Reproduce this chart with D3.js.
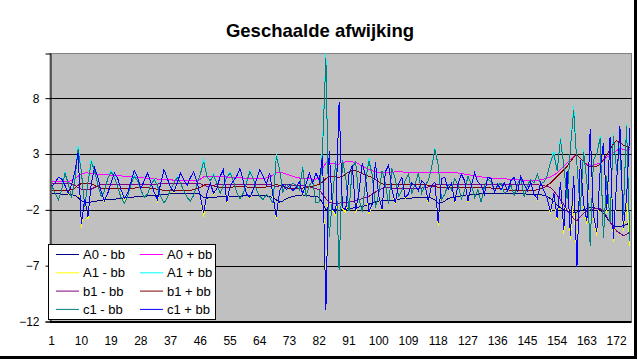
<!DOCTYPE html>
<html>
<head>
<meta charset="utf-8">
<script src="https://cdn.jsdelivr.net/npm/d3@7"></script>
<style>
  body { margin: 0; background: #fff; }
  svg { display: block; font-family: Arial, "Liberation Sans", sans-serif; }
</style>
</head>
<body>
<script>
// ---- data ----
const categories = d3.range(1, 177);
const xTickLabels = [1, 10, 19, 28, 37, 46, 55, 64, 73, 82, 91, 100, 109, 118, 127, 136, 145, 154, 163, 172];
const yTickValues = [-12, -7, -2, 3, 8];

const seriesNames = ["A0 - bb", "A0 + bb", "A1 - bb", "A1 + bb", "b1 - bb", "b1 + bb", "c1 - bb", "c1 + bb"];
const seriesColors = ["#000080", "#FF00FF", "#FFFF00", "#00FFFF", "#800080", "#800000", "#008080", "#0000FF"];

const a0Minus = [
  -0.55, -0.55, -0.55, -0.6, -0.6, -0.6, -0.65, -0.7,
  -0.9, -1.2, -1.3, -1.3, -1.3, -1.25,
  -1.2, -1.15, -1.15, -1.1, -1.1, -1.05, -1.0, -1.0,
  -0.95, -0.9, -0.9, -0.85, -0.85, -0.8, -0.8, -0.75,
  -0.75, -0.7, -0.7, -0.65, -0.6, -0.6, -0.55, -0.55,
  -0.55, -0.55, -0.55, -0.55, -0.55, -0.55, -0.55, -0.6,
  -0.9, -0.95, -0.9, -0.9, -0.85, -0.85, -0.85, -0.85,
  -0.8, -0.8, -0.8, -0.8, -0.75, -0.75, -0.75, -0.75, -0.75, -0.7, -0.7, -0.75, -0.8, -0.9,
  -1.1, -1.3, -1.2,
  -1.0, -0.9, -0.8, -0.75, -0.7,
  -0.7, -0.7, -0.75, -0.8, -0.8, -0.9,
  -1.4, -2.0, -2.05, -2.0, -2.0, -2.05, -2.0, -1.95,
  -1.9, -1.85, -1.8, -1.75, -1.7, -1.6, -1.5, -1.4, -1.3, -1.25,
  -1.2, -1.2, -1.15, -1.15, -1.1, -1.05, -1.0, -1.0, -0.95, -0.95,
  -0.9, -0.9, -0.9, -0.9, -0.9, -0.95, -1.1,
  -1.4, -1.35, -1.2, -1.0, -0.9,
  -0.85, -0.8, -0.75, -0.7, -0.7, -0.65, -0.6, -0.6, -0.55, -0.55, -0.5, -0.5, -0.5,
  -0.5, -0.5, -0.5, -0.5, -0.55, -0.55, -0.55, -0.55, -0.55, -0.6, -0.6, -0.6, -0.6, -0.65, -0.7, -0.8, -1.0,
  -1.3, -1.6, -1.8, -2.0, -2.1, -2.2, -2.2, -2.2,
  -2.1, -2.0, -1.9, -1.8, -1.8, -1.9, -2.0, -2.3,
  -2.7, -3.1, -3.4, -3.5, -3.5, -3.4, -3.3, -3.2
];

const a0Plus = [
  0.5, 0.5, 0.5, 0.5, 0.5, 0.55, 0.6, 0.75,
  1.0, 1.2, 1.3, 1.3, 1.25, 1.25,
  1.2, 1.2, 1.15, 1.15, 1.1, 1.1, 1.05, 1.05,
  1.0, 1.0, 0.95, 0.95, 0.9, 0.9, 0.85, 0.85,
  0.8, 0.8, 0.75, 0.75, 0.7, 0.7, 0.7, 0.65,
  0.65, 0.65, 0.65, 0.65, 0.65, 0.65, 0.65, 0.75,
  0.95, 1.0, 1.0, 0.95, 0.95, 0.95, 0.95, 0.95,
  0.9, 0.9, 0.9, 0.9, 0.85, 0.85, 0.8, 0.8, 0.8, 0.8, 0.8, 0.85, 0.95, 1.1,
  1.3, 1.35, 1.3,
  1.2, 1.1, 1.0, 0.9, 0.85,
  0.8, 0.8, 0.8, 0.75, 0.75, 0.9,
  1.7, 2.2, 2.2, 2.15, 2.1, 2.1, 2.2, 2.3,
  2.3, 2.3, 2.25, 2.1, 1.9, 1.75, 1.6, 1.5, 1.4, 1.35,
  1.3, 1.3, 1.3, 1.35, 1.4, 1.4, 1.4, 1.35, 1.35, 1.3,
  1.3, 1.3, 1.3, 1.3, 1.3, 1.3, 1.3,
  1.35, 1.3, 1.3, 1.3, 1.3,
  1.3, 1.3, 1.25, 1.2, 1.15, 1.1, 1.05, 1.0, 0.95, 0.9, 0.9, 0.85, 0.85,
  0.85, 0.8, 0.8, 0.75, 0.7, 0.7, 0.7, 0.65, 0.65, 0.65, 0.65, 0.65, 0.65, 0.7, 0.75, 0.85, 0.95,
  1.1, 1.3, 1.6, 1.9, 2.2, 2.5, 2.8, 2.9,
  2.6, 2.3, 2.1, 2.0, 2.0, 2.1, 2.2, 2.4,
  2.7, 2.9, 3.1, 3.3, 3.5, 3.4, 3.3, 3.4
];

const a1Minus = [
  0.1, 0.4, 0.9, 0.8, 0.2, -0.6, 0.2, 1.4, 3.1, -3.6,
  -1.0, -2.8, 0.4, 1.8, 0.9, -0.4, -1.3, -0.5, 0.4, 1.3,
  0.8, -0.2, -1.1, -0.5, 0.5, 1.5, 0.9, -0.1, 0.6, 1.3,
  0.5, -0.4, -1.2, 0.4, 1.6, 0.8, 0.0, -0.5, 0.4, 1.3,
  0.7, 0.2, 0.9, 1.4, 0.5, -0.8, -2.6, -0.5, 0.4, -0.6,
  -0.1, 1.0, 1.6, -1.4, 0.1, 0.6, 1.0, 1.7, 0.6, -0.6,
  -1.0, -0.2, 0.7, 1.6, 1.0, 0.3, 1.3, -0.9, -2.8, -0.3,
  0.3, -0.2, 0.2, -0.3, 0.0, 0.5, -0.7, 0.3, 1.3, 0.4,
  1.3, 0.6, 2.8, -10.2, 3.3, -2.1, -2.5, 7.7, -1.9, -2.2,
  1.2, 2.0, -2.3, -0.5, 2.2, 1.0, -2.4, -1.5, 2.3, -0.8,
  -2.0, 1.4, 2.0, -0.2, -1.5, 0.3, 0.9, -1.0, -0.6, 0.4,
  0.2, -0.3, 0.6, 0.3, -1.4, 0.2, 0.5, -3.4, 0.8, 0.9,
  -0.2, 0.4, -1.4, 0.3, 1.2, 0.6, -1.3, 0.1, 1.3, 0.5,
  0.2, -0.6, 0.9, 0.8, -0.4, 0.3, -0.2, 0.4, -0.3, 0.6,
  0.9, -0.4, 1.0, 0.3, -0.3, 0.5, -0.6, -1.1, 0.4, -0.3,
  -1.0, -2.4, -0.5, -2.9, 0.5, -4.2, 1.5, -4.6, -1.2, -6.6,
  2.5, -1.6, -3.3, 5.2, -2.7, -4.3, 1.5, 4.0, -2.3, 4.5,
  -4.9, 0.5, 5.5, -3.9, -1.0, -5.2
];

const a1Plus = [
  0.2, -0.5, -1.1, -0.3, 1.4, 0.4, -0.9, 0.6, 3.7, 1.4,
  -1.7, 0.5, 2.5, 1.5, 0.2, -0.8, -0.3, 0.8, 1.5, 0.9,
  0.0, -0.9, -1.4, -0.8, 0.3, 1.1, 0.6, -0.2, -0.9, -0.6,
  0.2, 0.8, 0.2, -0.8, -1.4, -0.9, -0.2, 0.4, 1.0, 0.4,
  -0.3, -0.9, -1.2, -0.7, 0.3, 1.2, 2.6, 1.0, 0.6, 1.2,
  0.4, -0.5, 0.2, 0.9, 1.4, 0.6, -0.4, -1.0, -0.5, 0.5,
  1.5, 0.8, -0.2, -0.8, -1.1, -0.6, -0.9, -1.4, 3.0, 1.6,
  -0.4, 0.3, 0.0, 0.4, 0.2, -0.2, 1.9, -0.8, 0.2, 0.6,
  -1.4, -1.3, 3.9, 12.0, -4.4, -1.0, 2.4, -7.4, 2.5, 1.0,
  -2.1, 1.8, 2.3, -1.0, -2.2, 0.5, 2.6, 1.2, -1.8, -0.6,
  1.5, 0.4, -1.5, 1.7, 0.8, -0.8, -0.3, 0.6, 1.2, -0.5,
  0.3, 1.3, -0.5, 0.2, 0.6, 1.8, 3.5, 2.0, -1.1, -0.6,
  0.3, -0.2, 0.8, 0.2, -1.0, -0.3, 1.0, 0.3, -0.9, -0.2,
  -1.3, 0.1, 0.8, 0.5, -0.3, 0.2, 0.4, -0.5, -0.3, 0.2,
  -0.7, 0.3, 0.9, -0.8, 0.2, 0.7, 0.4, 1.2, 0.3, 0.5,
  1.1, 2.3, 3.3, 1.5, 4.5, 2.0, -1.0, 3.5, 7.3, 2.0,
  -2.0, 3.4, 0.5, -5.2, 2.5, 3.0, 4.6, -4.5, 1.0, -3.1,
  4.8, 1.5, 3.7, -2.5, 5.7, -4.8
];

const b1Minus = [
  0.35, 0.35, 0.35, 0.35, 0.35, 0.35, 0.3, 0.2,
  0.0, -0.15, -0.2, -0.2, -0.15, 0.0, 0.15, 0.25,
  0.3, 0.3, 0.3, 0.3, 0.3, 0.3, 0.3, 0.3, 0.3, 0.3, 0.3, 0.3, 0.3, 0.3, 0.3, 0.3, 0.3, 0.35, 0.35, 0.35,
  0.35, 0.35, 0.35, 0.35, 0.35, 0.35, 0.35, 0.35, 0.35, 0.35,
  0.2, 0.1, 0.15, 0.2, 0.25, 0.3,
  0.3, 0.3, 0.3, 0.3, 0.3, 0.3, 0.3, 0.3, 0.3, 0.3, 0.3, 0.3, 0.3, 0.3, 0.25,
  0.15, 0.1, 0.15, 0.2, 0.25, 0.25, 0.2, 0.2, 0.2, 0.15, 0.1, 0.05, 0.0, -0.1, -0.2,
  -0.6, -1.0, -1.3, -1.4, -1.45, -1.4, -1.35, -1.3,
  -1.3, -1.25, -1.2, -1.1, -1.0, -0.9, -0.8, -0.6, -0.4, -0.25,
  -0.1, 0.0, 0.0, -0.05, -0.1, -0.1, -0.1, -0.1, -0.1, -0.1,
  -0.1, -0.1, -0.05, 0.0, 0.05, 0.1, 0.2, 0.3, 0.3, 0.3, 0.3, 0.3,
  0.3, 0.3, 0.3, 0.3, 0.3, 0.3, 0.3, 0.3, 0.3, 0.3, 0.3, 0.3, 0.3, 0.3, 0.3,
  0.3, 0.3, 0.3, 0.3, 0.3, 0.3, 0.3, 0.3, 0.3, 0.3, 0.25, 0.2, 0.15, 0.1, 0.0,
  -0.3, -0.7, -1.1, -1.5, -2.0, -2.4, -2.8, -2.95,
  -2.6, -2.3, -2.1, -2.0, -1.9, -1.85, -1.9, -2.1,
  -2.6, -3.1, -3.5, -3.9, -4.1, -4.3, -4.2, -4.0
];

const b1Plus = [
  -0.25, -0.25, -0.25, -0.25, -0.25, -0.25, -0.2, -0.05,
  0.2, 0.35, 0.4, 0.4, 0.35, 0.2, 0.05, -0.05,
  -0.1, -0.1, -0.1, -0.1, -0.05, -0.05, -0.05, -0.05, -0.05, -0.05,
  0.0, 0.0, 0.0, 0.0, -0.05, -0.1, -0.15, -0.2, -0.25, -0.25,
  -0.25, -0.25, -0.25, -0.25, -0.25, -0.25, -0.25, -0.2, -0.1, 0.0,
  0.2, 0.3, 0.25, 0.15, 0.05, 0.0,
  0.0, 0.0, 0.0, 0.05, 0.05, 0.05, 0.05, 0.05, 0.0, 0.0, 0.0, 0.0, 0.0, 0.05, 0.1,
  0.2, 0.25, 0.2, 0.1, 0.0, -0.1, -0.1, -0.1, -0.1, -0.05, 0.0, 0.05, 0.1, 0.2, 0.3,
  0.5, 0.8, 1.0, 1.0, 0.95, 0.9, 1.0, 1.2,
  1.4, 1.5, 1.5, 1.4, 1.25, 1.1, 1.0, 0.9, 0.7, 0.5,
  0.35, 0.25, 0.25, 0.25, 0.3, 0.3, 0.3, 0.3, 0.3, 0.3,
  0.3, 0.3, 0.3, 0.25, 0.2, 0.15, 0.1, 0.0, 0.0, 0.0, 0.0, 0.0,
  0.0, 0.0, 0.0, 0.0, 0.0, 0.0, 0.0, 0.0, 0.0, 0.0, 0.0, -0.05, -0.05, -0.05, -0.1,
  -0.15, -0.2, -0.25, -0.25, -0.25, -0.25, -0.25, -0.25, -0.25, -0.25, -0.2, -0.1, 0.0, 0.2, 0.4,
  0.7, 1.0, 1.3, 1.6, 1.9, 2.3, 2.7, 2.95,
  2.6, 2.3, 2.0, 1.85, 1.85, 1.9, 2.1, 2.5,
  2.9, 3.4, 3.9, 4.2, 4.0, 3.8, 3.7, 3.6
];

const c1Minus = [
  0.2, -0.5, -1.1, -0.3, 1.3, 0.4, -0.9, 0.6, 3.4, 1.4,
  -1.7, 0.5, 2.3, 1.5, 0.2, -0.8, -0.3, 0.8, 1.4, 0.9,
  0.0, -0.9, -1.4, -0.8, 0.3, 1.0, 0.6, -0.2, -0.9, -0.6,
  0.2, 0.7, 0.2, -0.8, -1.4, -0.9, -0.2, 0.4, 0.9, 0.4,
  -0.3, -0.9, -1.2, -0.7, 0.3, 1.2, 2.3, 1.0, 0.6, 1.1,
  0.4, -0.5, 0.2, 0.9, 1.3, 0.6, -0.4, -1.0, -0.5, 0.5,
  1.4, 0.8, -0.2, -0.8, -1.1, -0.6, -0.9, -1.4, 2.8, 1.6,
  -0.4, 0.3, 0.0, 0.4, 0.2, -0.2, 1.8, -0.8, 0.2, 0.6,
  -1.4, -1.3, 3.5, 11.6, -4.4, -1.0, 2.4, -7.4, 2.5, 1.0,
  -2.1, 1.8, 2.3, -1.0, -2.2, 0.5, 2.4, 1.2, -1.8, -0.6,
  1.5, 0.4, -1.5, 1.7, 0.8, -0.8, -0.3, 0.6, 1.2, -0.5,
  0.3, 1.3, -0.5, 0.2, 0.6, 1.8, 3.4, 2.0, -1.1, -0.6,
  0.3, -0.2, 0.8, 0.2, -1.0, -0.3, 1.0, 0.3, -0.9, -0.2,
  -1.3, 0.1, 0.8, 0.5, -0.3, 0.2, 0.4, -0.5, -0.3, 0.2,
  -0.7, 0.3, 0.9, -0.8, 0.2, 0.7, 0.4, 1.2, 0.3, 0.5,
  1.1, 2.3, 3.0, 1.5, 4.3, 2.0, -1.0, 3.5, 6.9, 2.0,
  -2.0, 3.2, 0.5, -5.2, 2.5, 3.0, 4.4, -4.5, 1.0, -3.1,
  4.6, 1.5, 3.5, -2.5, 5.5, -4.8
];

const c1Plus = [
  0.1, 0.4, 0.9, 0.8, 0.2, -0.5, 0.2, 1.4, 3.1, -3.3,
  -1.0, -2.6, 0.4, 1.8, 0.9, -0.4, -1.2, -0.5, 0.4, 1.3,
  0.8, -0.2, -1.0, -0.5, 0.5, 1.5, 0.9, -0.1, 0.6, 1.3,
  0.5, -0.4, -1.1, 0.4, 1.6, 0.8, 0.0, -0.4, 0.4, 1.3,
  0.7, 0.2, 0.9, 1.4, 0.5, -0.8, -2.3, -0.5, 0.4, -0.5,
  -0.1, 1.0, 1.6, -1.3, 0.1, 0.6, 1.0, 1.7, 0.6, -0.6,
  -0.9, -0.2, 0.7, 1.6, 1.0, 0.3, 1.3, -0.8, -2.6, -0.3,
  0.3, -0.2, 0.2, -0.3, 0.0, 0.5, -0.6, 0.3, 1.3, 0.4,
  1.3, 0.6, 2.8, -11.0, 3.3, -1.9, -2.3, 7.7, -1.8, -2.0,
  1.2, 2.0, -2.1, -0.5, 2.2, 1.0, -2.2, -1.5, 2.3, -0.8,
  -1.9, 1.4, 2.0, -0.2, -1.4, 0.3, 0.9, -0.9, -0.6, 0.4,
  0.2, -0.3, 0.6, 0.3, -1.3, 0.2, 0.5, -3.2, 0.8, 0.9,
  -0.2, 0.4, -1.3, 0.3, 1.2, 0.6, -1.2, 0.1, 1.3, 0.5,
  0.2, -0.6, 0.9, 0.8, -0.4, 0.3, -0.2, 0.4, -0.3, 0.6,
  0.9, -0.4, 1.0, 0.3, -0.3, 0.5, -0.6, -1.0, 0.4, -0.3,
  -1.0, -2.2, -0.5, -2.7, 0.5, -3.8, 1.5, -4.3, 1.0, -7.1,
  2.5, -1.5, -3.0, 5.2, -2.5, -4.0, 1.5, 4.0, -2.0, 4.5,
  -4.6, 0.5, 5.5, -3.6, -1.0, 5.3
];

const seriesValues = [a0Minus, a0Plus, a1Minus, a1Plus, b1Minus, b1Plus, c1Minus, c1Plus];

// ---- chart ----
const width = 638, height = 361;
const plot = { left: 50, right: 631.5, top: 53.5, bottom: 321.5 };

const svg = d3.select("body").append("svg")
    .attr("width", width)
    .attr("height", height);

// title
svg.append("text")
    .attr("x", 320)
    .attr("y", 37)
    .attr("text-anchor", "middle")
    .style("font-size", "18.5px")
    .style("font-weight", "bold")
    .text("Geschaalde afwijking");

const x = d3.scaleBand().domain(categories).range([plot.left, plot.right]).padding(0);
const y = d3.scaleLinear().domain([-12, 12]).range([plot.bottom, plot.top]);
const xc = d => x(d) + x.bandwidth() / 2;

// plot area
svg.append("rect")
    .attr("x", plot.left)
    .attr("y", plot.top)
    .attr("width", plot.right - plot.left)
    .attr("height", plot.bottom - plot.top)
    .attr("fill", "#C0C0C0")
    .attr("stroke", "#808080")
    .attr("stroke-width", 1);

// gridlines
svg.append("g")
    .selectAll("line")
    .data(yTickValues)
    .enter().append("line")
    .attr("x1", plot.left)
    .attr("x2", plot.right)
    .attr("y1", d => Math.round(y(d)) + 0.5)
    .attr("y2", d => Math.round(y(d)) + 0.5)
    .attr("stroke", "#000")
    .attr("stroke-width", 1);

svg.append("defs").append("clipPath").attr("id", "clip")
    .append("rect")
    .attr("x", plot.left)
    .attr("y", plot.top)
    .attr("width", plot.right - plot.left)
    .attr("height", plot.bottom - plot.top);

// series lines, drawn in legend order so c1 + bb ends up on top
const line = d3.line()
    .x((d, i) => xc(categories[i]))
    .y(d => y(d));

svg.append("g")
    .attr("clip-path", "url(#clip)")
    .selectAll("path")
    .data(seriesValues)
    .enter().append("path")
    .attr("d", line)
    .attr("fill", "none")
    .attr("stroke", (d, i) => seriesColors[i])
    .attr("stroke-width", 1)
    .style("shape-rendering", "crispEdges");

// y axis
const yAxis = d3.axisLeft(y).tickValues(yTickValues).tickSize(5).tickPadding(6).tickFormat(d3.format("d"));
const gy = svg.append("g")
    .attr("transform", `translate(${plot.left + 0.5},0)`)
    .call(yAxis);
gy.select(".domain").attr("stroke", "#000");
gy.selectAll(".tick line").attr("stroke", "#000");
gy.selectAll(".tick text")
    .style("font-size", "12px")
    .style("font-family", "Arial, 'Liberation Sans', sans-serif")
    .attr("fill", "#000");

// x axis line and labels
svg.append("line")
    .attr("x1", plot.left)
    .attr("x2", plot.right)
    .attr("y1", plot.bottom)
    .attr("y2", plot.bottom)
    .attr("stroke", "#000");

svg.append("g")
    .selectAll("text")
    .data(xTickLabels)
    .enter().append("text")
    .attr("x", d => xc(d))
    .attr("y", 345)
    .attr("text-anchor", "middle")
    .style("font-size", "12px")
    .text(d => d);

// legend
const legendData = seriesNames.map((name, i) => ({ name: name, color: seriesColors[i] }));
const legend = svg.append("g");
legend.append("rect")
    .attr("x", 48.5)
    .attr("y", 244.5)
    .attr("width", 167)
    .attr("height", 75)
    .attr("fill", "#fff")
    .attr("stroke", "#000");

const legendItems = legend.selectAll("g.item")
    .data(legendData)
    .enter().append("g")
    .attr("class", "item")
    .attr("transform", (d, i) => `translate(${i % 2 === 0 ? 56 : 140},${254.5 + Math.floor(i / 2) * 18.3})`);

legendItems.append("line")
    .attr("x1", 0)
    .attr("x2", 23)
    .attr("stroke", d => d.color)
    .attr("stroke-width", 1);

legendItems.append("text")
    .attr("x", 27)
    .attr("y", 4.5)
    .style("font-size", "13px")
    .text(d => d.name);

// outer frame (right and bottom edges show in the picture)
svg.append("line").attr("x1", 635.5).attr("x2", 635.5).attr("y1", 0).attr("y2", 359)
    .attr("stroke", "#000").attr("stroke-width", 3);
svg.append("line").attr("x1", 0).attr("x2", 637).attr("y1", 357.5).attr("y2", 357.5)
    .attr("stroke", "#000").attr("stroke-width", 3);
</script>
</body>
</html>
